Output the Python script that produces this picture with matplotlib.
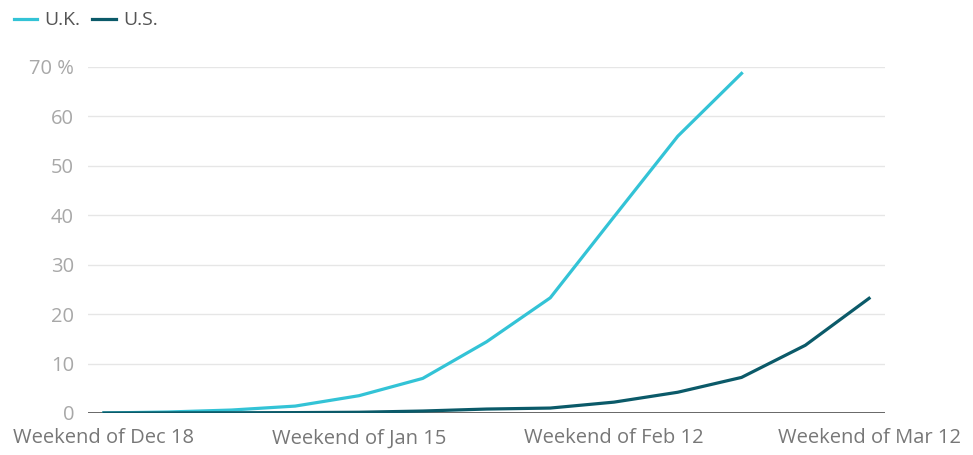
import matplotlib.pyplot as plt
import numpy as np

weeks = ['Weekend of Dec 18', '', '', '', 'Weekend of Jan 15', '', '', '',
         'Weekend of Feb 12', '', '', '', 'Weekend of Mar 12']
uk = [0, 0.2, 0.6, 1.4, 3.5, 7.0, 14.4, 23.3, 39.7, 56.0, 68.7]
us = [0, 0.02, 0.05, 0.08, 0.15, 0.4, 0.8, 1.0, 2.2, 4.2, 7.2, 13.7, 23.2]
yticks = [0, 10, 20, 30, 40, 50, 60, 70]

plt.rcParams['font.family'] = ['Open Sans', 'DejaVu Sans']

fig = plt.figure(figsize=(9.73, 4.55), dpi=100)
ax = fig.add_axes([88 / 973, 1 - 413 / 455, (885 - 88) / 973, (413 - 67) / 455])

x = np.arange(len(weeks))
ax.plot(x[:len(uk)], uk, color='#33c3d6', lw=2.3, label='U.K.', solid_joinstyle='round')
ax.plot(x, us, color='#0b5a69', lw=2.3, label='U.S.', solid_joinstyle='round')

ax.set_xlim(-0.25, 12.25)
ax.set_ylim(0, 70)
ax.set_yticks(yticks)
ax.set_yticklabels([str(v) if v != 70 else '70 %' for v in yticks])
ax.set_xticks([0, 4, 8, 12])
ax.set_xticklabels([weeks[i] for i in [0, 4, 8, 12]])

for v in yticks[1:]:
    ax.axhline(v, color='#e6e6e6', lw=1, zorder=0)
ax.axhline(0, color='#3a3a3a', lw=1.8, zorder=1)

for s in ax.spines.values():
    s.set_visible(False)
ax.tick_params(axis='both', length=0)
ax.tick_params(axis='y', labelsize=14.5, labelcolor='#a8a8a8', pad=10)
ax.tick_params(axis='x', labelsize=14.5, labelcolor='#777777', pad=11)
for lab in ax.get_xticklabels():
    lab.set_clip_on(False)

ax.legend(loc='upper left', bbox_to_anchor=(0.0, 1.005), bbox_transform=fig.transFigure,
          ncol=2, frameon=False, fontsize=14, handlelength=1.2, handletextpad=0.4,
          columnspacing=0.6, labelcolor='#555555', borderaxespad=0.3)

fig.savefig('out.png', dpi=100)
